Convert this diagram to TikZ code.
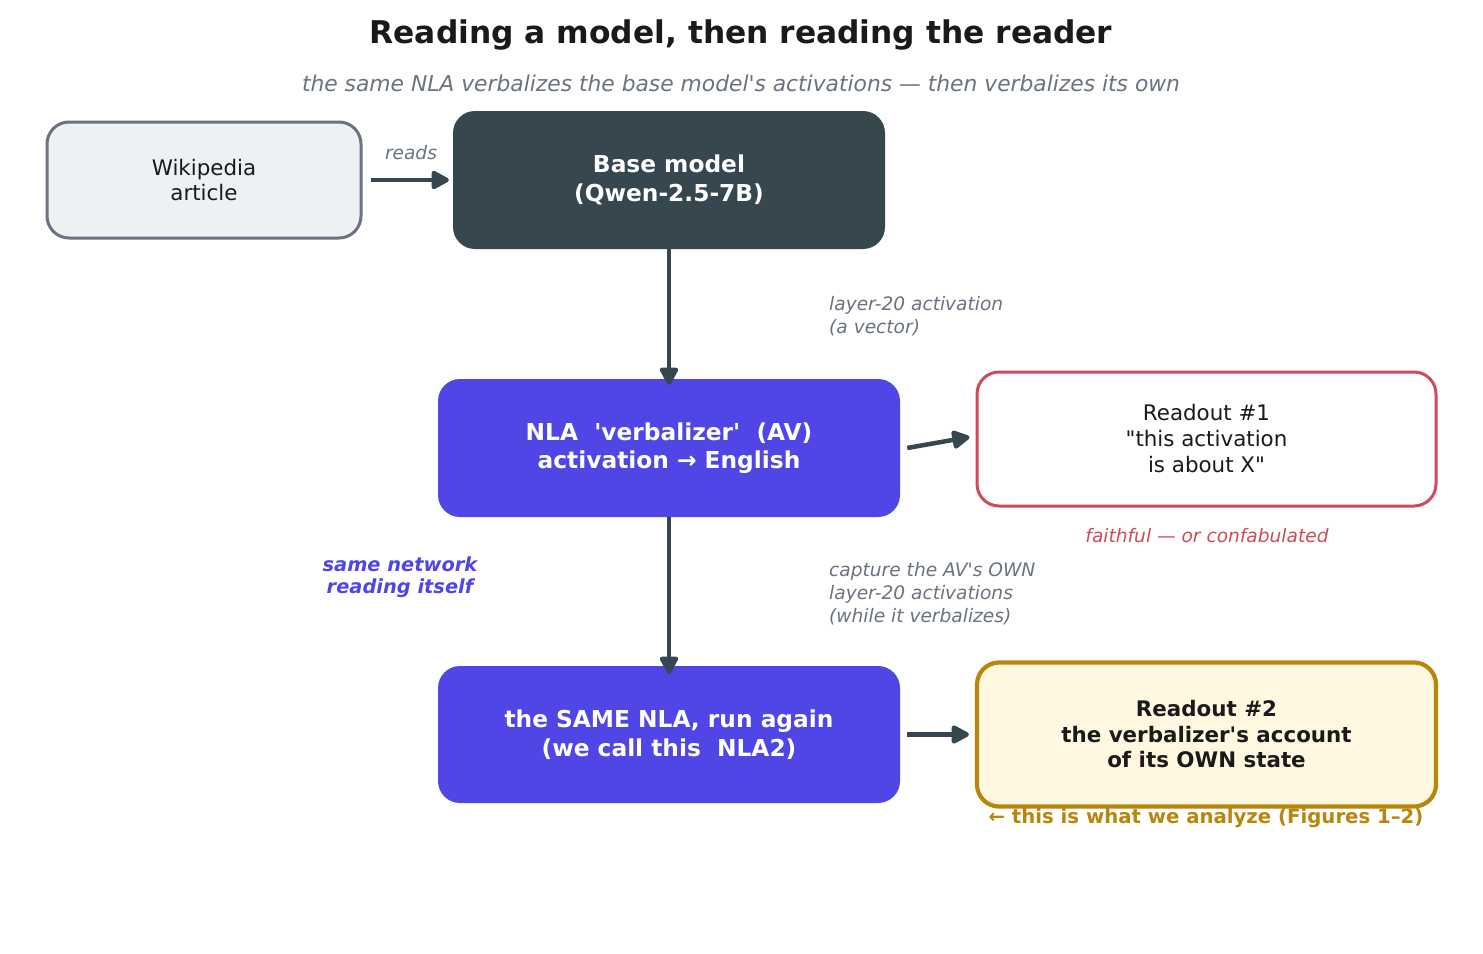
\documentclass[tikz,border=0pt]{standalone}
\usepackage{fontspec}
\setmainfont{DejaVu Sans}[Ligatures=TeXOff]
\usetikzlibrary{arrows.meta}
\definecolor{dark}{RGB}{55,71,79}
\definecolor{indigo}{RGB}{79,70,229}
\definecolor{muted}{RGB}{107,114,128}
\definecolor{ink}{RGB}{26,26,26}
\definecolor{wikifill}{RGB}{238,241,244}
\definecolor{redline}{RGB}{208,74,90}
\definecolor{gold}{RGB}{184,134,11}
\definecolor{cream}{RGB}{255,247,224}
\newcommand{\fsz}[2]{\fontsize{#1}{#2}\selectfont}
\tikzset{
  box/.style={rounded corners=22, align=center, inner sep=0pt},
  arr/.style={draw=dark, line width=4.5pt, arrows={-Triangle[length=20pt,width=20pt,round]}},
  note/.style={font=\fsz{18.6}{23}\itshape, text=muted, align=left, inner sep=0pt},
}
\begin{document}
\begin{tikzpicture}[x=1pt,y=-1pt]
\useasboundingbox (0,0) rectangle (1483,953);
\fill[white] (0,0) rectangle (1483,953);

\node[font=\fsz{31.3}{36}\bfseries, text=ink] (title) at (741,35) {Reading a model, then reading the reader};
\node[font=\fsz{21.8}{26}\itshape, text=muted] (sub) at (741,83) {the same NLA verbalizes the base model's activations — then verbalizes its own};

\node[box, draw=muted, line width=3, fill=wikifill, minimum width=314, minimum height=116,
      font=\fsz{21.4}{25}, text=ink] (wiki) at (204,180) {Wikipedia\\article};
\node[box, fill=dark, minimum width=432, minimum height=138,
      font=\fsz{23.3}{28.5}\bfseries, text=white] (base) at (669,180) {Base model\\(Qwen-2.5-7B)};
\node[box, fill=indigo, minimum width=462, minimum height=138,
      font=\fsz{23.3}{28.5}\bfseries, text=white] (nla) at (669,448) {NLA\ \ 'verbalizer'\ \ (AV)\\activation → English};
\node[box, draw=redline, line width=3, fill=white, minimum width=459, minimum height=134,
      font=\fsz{21.4}{26}, text=ink] (r1) at (1206.5,439) {Readout \#1\\"this activation\\is about X"};
\node[box, fill=indigo, minimum width=462, minimum height=137,
      font=\fsz{23.3}{28.5}\bfseries, text=white] (nla2) at (669,734.5) {the SAME NLA, run again\\(we call this\ \ NLA2)};
\node[box, draw=gold, line width=4.2, fill=cream, minimum width=459, minimum height=144,
      font=\fsz{21.4}{25.5}\bfseries, text=ink] (r2) at (1206.5,734.5) {Readout \#2\\the verbalizer's account\\of its OWN state};

\draw[arr] ([xshift=8]wiki.east) -- ([xshift=-4]base.west);
\draw[arr] (base.south) -- ([yshift=-6]nla.north);
\draw[arr] ([xshift=7]nla.east) -- ([xshift=-6,yshift=2]r1.west);
\draw[arr] (nla.south) -- ([yshift=-8]nla2.north);
\draw[arr] ([xshift=7]nla2.east) -- ([xshift=-6]r2.west);

\node[note] (lreads) at (411,153) {reads};
\node[note, anchor=west] (lact) at (829,316.5) {layer-20 activation\\(a vector)};
\node[note, anchor=west] (lcap) at (829,594) {capture the AV's OWN\\layer-20 activations\\(while it verbalizes)};
\node[font=\fsz{19.4}{22}\bfseries\itshape, text=indigo, align=center] (lsame) at (400,577) {same network\\reading itself};
\node[font=\fsz{18.6}{22}\itshape, text=redline] (lfaith) at (1207,536) {faithful — or confabulated};
\node[font=\fsz{19.7}{22}\bfseries, text=gold] (lana) at (1206,818) {← this is what we analyze (Figures 1–2)};
\end{tikzpicture}
\end{document}
